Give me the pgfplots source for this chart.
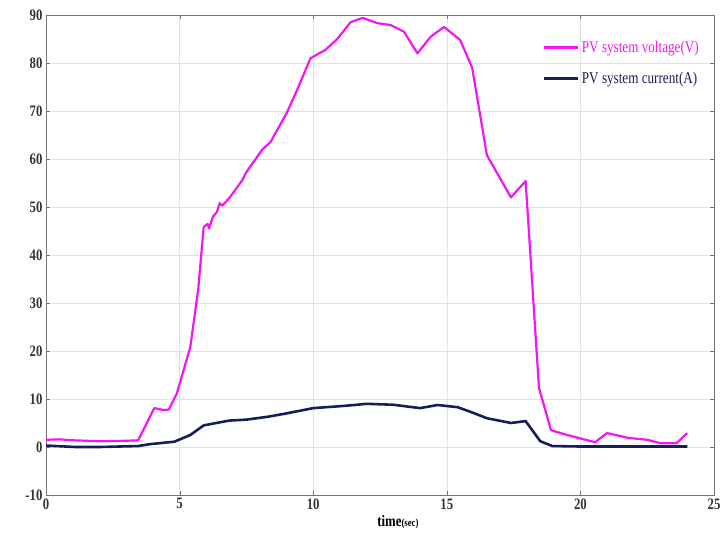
\documentclass[border=0pt]{standalone}
\usepackage{fontspec}
\setmainfont{Liberation Serif}[FakeStretch=0.8]
\usepackage{pgfplots}
\pgfplotsset{compat=1.18}
\definecolor{vcol}{RGB}{245,20,245}
\definecolor{icol}{RGB}{22,30,90}
\begin{document}
\begin{tikzpicture}
\begin{axis}[
  scale only axis,
  width=668bp, height=480bp,
  xmin=0, xmax=25, ymin=-10, ymax=90,
  xtick={0,5,...,25}, ytick={-10,0,...,90},
  grid=major,
  major grid style={gray!22, line width=0.6pt},
  axis line style={black!55, line width=0.8pt},
  tick style={black!55},
  tick align=inside,
  major tick length=4bp,
  /pgf/number format/assume math mode=true,
  ticklabel style={font=\fontsize{16}{16}\selectfont\bfseries, text=black!80},
  xlabel={\fontsize{16}{16}\selectfont\bfseries time{\fontsize{11}{11}\selectfont(sec)}},
  xlabel style={yshift=1bp, xshift=18bp},
  legend style={draw=none, fill=none, at={(0.985,0.955)}, anchor=north east,
    font=\fontsize{16.5}{16.5}\selectfont, row sep=14bp},
  legend cell align=left,
  legend image code/.code={\draw[#1, line width=3pt] (0cm,0cm) -- (1.2cm,0cm);},
]
\addplot[vcol, line width=2.2pt, line join=round] coordinates {
(0,1.5) (0.5,1.6) (1,1.4) (2,1.2) (3,1.3) (3.45,1.4) (4.05,8.1) (4.4,7.7) (4.6,7.8)
(4.9,11.2) (5.4,20.8) (5.7,33) (5.9,45.8) (6.05,46.5) (6.1,45.5) (6.25,48) (6.4,49)
(6.5,50.8) (6.6,50.3) (6.85,51.8) (7.35,55.6) (7.5,57.3) (8.1,62) (8.4,63.5) (9,69.5)
(9.4,74.4) (9.9,81) (10.45,82.7) (10.9,85) (11.4,88.5) (11.85,89.4) (12.4,88.3)
(12.9,87.9) (13.4,86.5) (13.9,82) (14.4,85.5) (14.9,87.5) (15.5,84.8) (15.95,79)
(16.5,60.8) (17.4,52) (17.95,55.4) (18.45,12.3) (18.9,3.5) (19.5,2.5) (20.55,1)
(21,2.9) (21.8,1.9) (22.5,1.5) (23,0.8) (23.6,0.8) (24,2.9)
};
\addlegendentry{\textcolor{vcol}{PV system voltage(V)}}
\addplot[icol, line width=2.6pt, line join=round] coordinates {
(0,0.3) (1.1,0) (2,0) (3.45,0.2) (3.9,0.6) (4.8,1.1) (5.4,2.5) (5.9,4.5) (6.85,5.5)
(7.5,5.7) (8.3,6.3) (9,7) (10,8.1) (11,8.5) (11.55,8.75) (12,9) (13,8.8) (14,8.1)
(14.65,8.75) (15.4,8.3) (15.9,7.3) (16.5,6) (17.4,5) (17.95,5.4) (18.5,1.2)
(18.95,0.2) (20,0.1) (22,0.1) (24,0.1)
};
\addlegendentry{\textcolor{icol}{PV system current(A)}}
\end{axis}
\pgfresetboundingbox
\path ([xshift=-46bp,yshift=-47bp]current axis.south west) rectangle ([xshift=11bp,yshift=15bp]current axis.north east);
\end{tikzpicture}
\end{document}
